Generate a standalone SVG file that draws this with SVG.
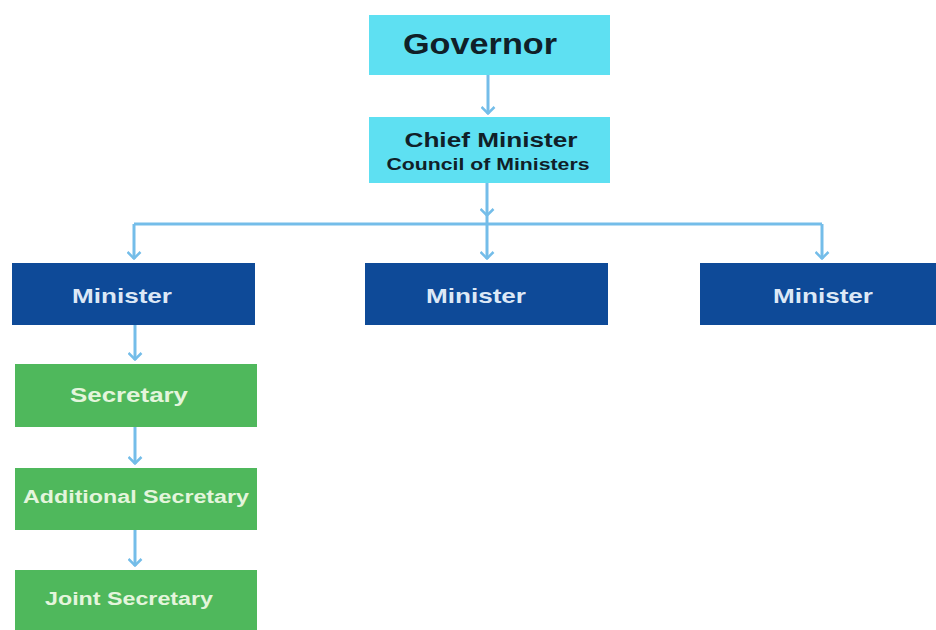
<svg xmlns="http://www.w3.org/2000/svg" width="936" height="630" viewBox="0 0 936 630">
<style>
.top{fill:#5ee0f2}
.min{fill:#0e4a98}
.sec{fill:#4fb85c}
.t{font-family:"Liberation Sans",Arial,sans-serif;font-weight:bold;text-anchor:middle}
.dark{fill:#102028}
.wb{fill:#dce8f6}
.wg{fill:#e4f5dc}
.c{stroke:#74bde9;stroke-width:3;fill:none}
</style>
<defs>
<marker id="ah" markerWidth="9" markerHeight="15" refX="8" refY="7.5" orient="auto" markerUnits="userSpaceOnUse" viewBox="0 0 9 15">
<path d="M1,1 L7.5,7.5 L1,14" fill="none" stroke="#74bde9" stroke-width="2.5"/>
</marker>
</defs>
<rect width="936" height="630" fill="#ffffff"/>
<g id="connectors">
<line class="c" x1="488" y1="75" x2="488" y2="114" marker-end="url(#ah)"/>
<line class="c" x1="487" y1="183" x2="487" y2="216" marker-end="url(#ah)"/>
<line class="c" x1="134" y1="224" x2="822" y2="224"/>
<line class="c" x1="134" y1="224" x2="134" y2="259" marker-end="url(#ah)"/>
<line class="c" x1="487" y1="216" x2="487" y2="259" marker-end="url(#ah)"/>
<line class="c" x1="822" y1="224" x2="822" y2="259" marker-end="url(#ah)"/>
<line class="c" x1="135" y1="325" x2="135" y2="360" marker-end="url(#ah)"/>
<line class="c" x1="135" y1="427" x2="135" y2="464" marker-end="url(#ah)"/>
<line class="c" x1="135" y1="530" x2="135" y2="566" marker-end="url(#ah)"/>
</g>
<g id="governor">
<rect class="top" x="369" y="15" width="241" height="60"/>
<text class="t dark" x="480" y="54" font-size="29" textLength="154" lengthAdjust="spacingAndGlyphs">Governor</text>
</g>
<g id="chief-minister">
<rect class="top" x="369" y="117" width="241" height="66"/>
<text class="t dark" x="491" y="147" font-size="20" textLength="173" lengthAdjust="spacingAndGlyphs">Chief Minister</text>
<text class="t dark" x="488" y="170" font-size="17" textLength="203" lengthAdjust="spacingAndGlyphs">Council of Ministers</text>
</g>
<g id="minister-1">
<rect class="min" x="12" y="263" width="243" height="62"/>
<text class="t wb" x="122" y="303" font-size="21" textLength="100" lengthAdjust="spacingAndGlyphs">Minister</text>
</g>
<g id="minister-2">
<rect class="min" x="365" y="263" width="243" height="62"/>
<text class="t wb" x="476" y="303" font-size="21" textLength="100" lengthAdjust="spacingAndGlyphs">Minister</text>
</g>
<g id="minister-3">
<rect class="min" x="700" y="263" width="236" height="62"/>
<text class="t wb" x="823" y="303" font-size="21" textLength="100" lengthAdjust="spacingAndGlyphs">Minister</text>
</g>
<g id="secretary">
<rect class="sec" x="15" y="364" width="242" height="63"/>
<text class="t wg" x="129" y="402" font-size="21" textLength="118" lengthAdjust="spacingAndGlyphs">Secretary</text>
</g>
<g id="additional-secretary">
<rect class="sec" x="15" y="468" width="242" height="62"/>
<text class="t wg" x="136" y="503" font-size="18" textLength="226" lengthAdjust="spacingAndGlyphs">Additional Secretary</text>
</g>
<g id="joint-secretary">
<rect class="sec" x="15" y="570" width="242" height="62"/>
<text class="t wg" x="129" y="605" font-size="18" textLength="168" lengthAdjust="spacingAndGlyphs">Joint Secretary</text>
</g>
</svg>
